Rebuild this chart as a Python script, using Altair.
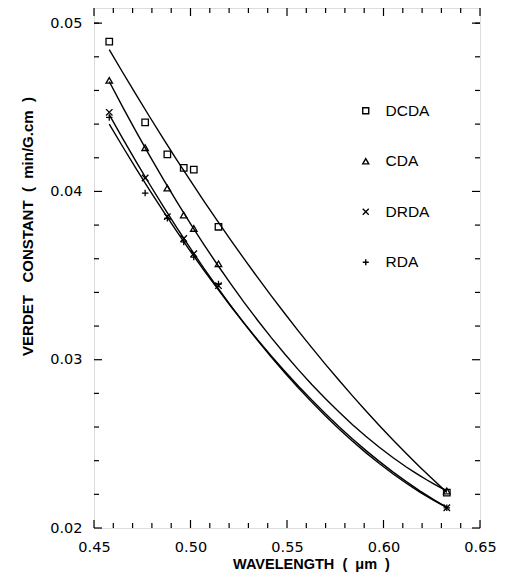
import altair as alt
import pandas as pd

wavelength = [0.4579, 0.4765, 0.4880, 0.4965, 0.5017, 0.5145, 0.6328]
dcda = [0.0489, 0.0441, 0.0422, 0.0414, 0.0413, 0.0379, 0.0221]
cda = [0.0466, 0.0426, 0.0402, 0.0386, 0.0378, 0.0357, 0.0222]
drda = [0.0447, 0.0408, 0.0385, 0.0372, 0.0363, 0.0344, 0.0212]
rda = [0.0444, 0.0399, 0.0384, 0.0370, 0.0361, 0.0345, 0.0212]
series_names = ["DCDA", "CDA", "DRDA", "RDA"]

x_major = [0.45, 0.50, 0.55, 0.60, 0.65]
x_minor = [0.46, 0.47, 0.48, 0.49, 0.51, 0.52, 0.53, 0.54, 0.56, 0.57, 0.58, 0.59, 0.61, 0.62, 0.63, 0.64]
y_major = [0.02, 0.03, 0.04, 0.05]
y_minor = [0.022, 0.024, 0.026, 0.028, 0.032, 0.034, 0.036, 0.038,
           0.042, 0.044, 0.046, 0.048, 0.050]

rows = []
for name, vals in zip(series_names, [dcda, cda, drda, rda]):
    for w, v in zip(wavelength, vals):
        rows.append({"wl": w, "value": v, "series": name})
df = pd.DataFrame(rows)

W, H = 386, 520
xs = alt.Scale(domain=[0.45, 0.65], nice=False, zero=False)
ys = alt.Scale(domain=[0.02, 0.0509], nice=False, zero=False)

font = "DejaVu Sans"
tfont = "Liberation Sans"
NB = "\u00a0"
ytitle = "VERDET" + NB * 3 + "CONSTANT" + NB * 2 + "(" + NB * 2 + "min/G.cm" + NB * 2 + ")"
xtitle = "WAVELENGTH" + NB * 2 + "(" + NB * 2 + "μm" + NB * 2 + ")"

base = alt.Chart(df)

points = base.mark_point(filled=False, color="black", size=42, strokeWidth=1.3, opacity=1).encode(
    x=alt.X("wl:Q", scale=xs,
            axis=alt.Axis(values=x_major, format=".2f", grid=False, ticks=False, domain=False,
                          labelFlush=False, labelFont=font, labelFontSize=14.5, labelColor="black",
                          labelPadding=12, title=xtitle, titleFont=tfont,
                          titleFontSize=14.5, titleFontWeight="bold", titleColor="black",
                          titlePadding=4, titleX=217)),
    y=alt.Y("value:Q", scale=ys,
            axis=alt.Axis(values=y_major, format=".2f", grid=False, ticks=False, domain=False,
                          labelFlush=False, labelFont=font, labelFontSize=14.5, labelColor="black",
                          labelPadding=12, title=ytitle, titleFont=tfont,
                          titleFontSize=15, titleFontWeight="bold", titleColor="black",
                          titlePadding=14, titleY=218)),
    shape=alt.Shape("series:N",
                    scale=alt.Scale(domain=series_names,
                                    range=["square", "triangle-up",
                                           "M-1,-1L1,1M-1,1L1,-1", "M-1,0L1,0M0,-1L0,1"]),
                    legend=alt.Legend(orient="none", legendX=264, legendY=95, title=None,
                                      rowPadding=33.5, labelFont=tfont, labelFontSize=15.5,
                                      labelColor="black", symbolSize=36, symbolStrokeWidth=1.4,
                                      symbolStrokeColor="black", symbolFillColor="transparent",
                                      labelOffset=12)),
)

lines = base.transform_regression("wl", "value", groupby=["series"], method="poly", order=2).mark_line(
    color="black", strokeWidth=1.4
).encode(
    x=alt.X("wl:Q", scale=xs),
    y=alt.Y("value:Q", scale=ys),
    detail="series:N",
)

def xticks(vals, length, top):
    d = pd.DataFrame({"wl": vals})
    if top:
        y1, y2 = 0, length
    else:
        y1, y2 = H, H - length
    return alt.Chart(d).mark_rule(color="black", strokeWidth=1.2).encode(
        x=alt.X("wl:Q", scale=xs), y=alt.value(y1), y2=alt.value(y2))

def yticks(vals, length, right):
    d = pd.DataFrame({"value": vals})
    if right:
        x1, x2 = W, W - length
    else:
        x1, x2 = 0, length
    return alt.Chart(d).mark_rule(color="black", strokeWidth=1.2).encode(
        y=alt.Y("value:Q", scale=ys), x=alt.value(x1), x2=alt.value(x2))

ticks = [
    xticks(x_major, 8, False), xticks(x_minor, 5, False),
    xticks(x_major, 8, True), xticks(x_minor, 5, True),
    yticks(y_major, 8, False), yticks(y_minor, 5, False),
    yticks(y_major, 8, True), yticks(y_minor, 5, True),
]

chart = alt.layer(points, lines, *ticks).properties(
    width=W, height=H,
    autosize=alt.AutoSizeParams(type="none"),
    padding={"left": 86, "top": 0, "right": 18, "bottom": 45},
).configure_view(stroke="black", strokeWidth=1.6).configure(background="white")

chart.save("out.html", embed_options={"renderer": "svg", "actions": False})
